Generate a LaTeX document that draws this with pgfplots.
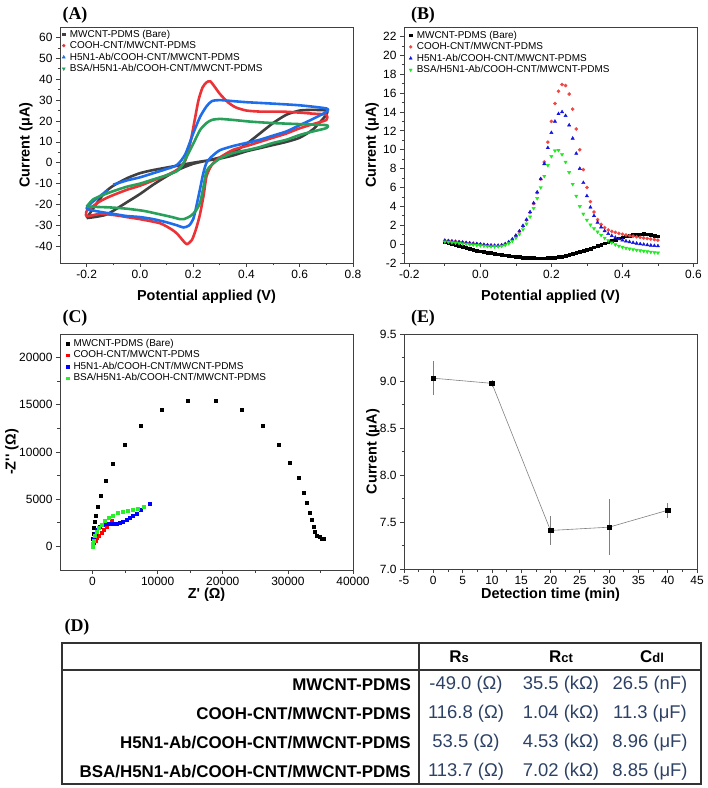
\documentclass[border=0pt]{standalone}
\usepackage{pgfplots}
\pgfplotsset{compat=1.18}
\usepackage{fontspec}
\setmainfont{Liberation Sans}
\newfontfamily\nolig{Liberation Sans}[Ligatures=TeXOff]
\newfontfamily\tnr{Liberation Serif}
\definecolor{cvblack}{RGB}{64,64,64}
\definecolor{cvred}{RGB}{235,50,55}
\definecolor{cvblue}{RGB}{30,110,235}
\definecolor{cvgreen}{RGB}{40,160,90}
\definecolor{dpvred}{RGB}{240,70,70}
\definecolor{dpvblue}{RGB}{20,20,225}
\definecolor{dpvgreen}{RGB}{30,235,30}
\definecolor{eisgreen}{RGB}{40,240,40}
\definecolor{tabval}{RGB}{45,65,100}
\pgfplotsset{
  legend image code/.code={\draw[mark repeat=2,mark phase=2,#1] plot coordinates {(0cm,0cm)(0.2cm,0cm)(0.4cm,0cm)};},
  pan/.style={
    scale only axis,
    axis line style={black!75, line width=0.7bp},
    tick align=outside, tick pos=left,
    major tick length=4bp, minor tick length=2.5bp,
    every tick/.style={black!75, line width=0.7bp},
    minor tick num=1,
    tick label style={font=\fontsize{12}{12}\selectfont},
    label style={font=\fontsize{14.5}{15}\selectfont\bfseries},
    /pgf/number format/assume math mode=true,
    /pgf/number format/1000 sep={},
    scaled ticks=false,
    legend cell align=left,
    legend style={draw=none, fill=none, font=\fontsize{10}{11}\selectfont,
      anchor=north west, inner xsep=2bp, inner ysep=2bp, row sep=1.6bp,
      nodes={inner sep=0.6bp}, /tikz/every odd column/.style={column sep=4bp}},
  },
  onedec/.style={/pgf/number format/fixed, /pgf/number format/fixed zerofill, /pgf/number format/precision=1},
}
\begin{document}
\begin{tikzpicture}
% ---------------- (A) CV ----------------
\begin{axis}[pan, at={(60bp,-27bp)}, anchor=north west, width=293bp, height=236bp,
  xmin=-0.3, xmax=0.8, ymin=-48, ymax=65,
  xtick={-0.2,0,0.2,0.4,0.6,0.8}, ytick={-40,-30,...,60},
  x tick label style={onedec},
  xlabel={Potential applied (V)}, ylabel={Current (μA)},
  xlabel style={at={(axis description cs:0.5,-0.144)}, anchor=center},
  ylabel style={at={(axis description cs:-0.116,0.5)}, anchor=center},
  legend style={at={(axis description cs:0,1)}}]
\addlegendimage{only marks, mark=square*, mark size=1.3bp, cvblack}
\addlegendimage{only marks, mark=*, mark size=1.5bp, cvred}
\addlegendimage{only marks, mark=triangle*, mark size=1.8bp, cvblue}
\addlegendimage{only marks, mark=triangle*, mark options={rotate=180}, mark size=1.8bp, cvgreen}
\addplot[cvblack, line width=2.6bp, smooth, tension=0.4, line join=round] coordinates {
(-0.2,-26.5) (-0.17,-26) (-0.13,-25) (-0.1,-23) (-0.05,-19) (0.0,-15) (0.05,-10.5) (0.1,-6.5) (0.15,-3) (0.2,-0.5) (0.25,1) (0.3,2.5) (0.35,5) (0.4,9) (0.45,14) (0.5,19) (0.55,23) (0.6,25) (0.65,25.3) (0.7,25)
(0.7,23) (0.65,16) (0.6,12) (0.55,10) (0.5,8.5) (0.45,7) (0.4,5.5) (0.35,3.5) (0.3,2) (0.25,1) (0.2,0) (0.14,-1.4) (0.05,-3.5) (0.0,-5) (-0.05,-7.5) (-0.1,-11) (-0.13,-14) (-0.16,-19) (-0.2,-26.5)};
\addplot[cvred, line width=2.6bp, smooth, tension=0.4, line join=round] coordinates {
(-0.2,-23) (-0.15,-18.5) (-0.11,-16) (-0.05,-13) (0.0,-11) (0.05,-8.5) (0.1,-6) (0.14,-3.3) (0.17,1) (0.19,10) (0.205,20) (0.22,30) (0.235,36) (0.25,38.5) (0.264,39) (0.28,36.5) (0.3,33) (0.33,29) (0.36,26.5) (0.4,25) (0.45,24.5) (0.5,24.5) (0.55,24.4) (0.6,24) (0.65,23.5) (0.7,23)
(0.7,20.5) (0.65,18.5) (0.6,16.5) (0.55,14) (0.5,12) (0.45,10) (0.4,8) (0.35,6.2) (0.3,2.5) (0.27,-1) (0.25,-6.5) (0.24,-15) (0.225,-25) (0.21,-32) (0.195,-37) (0.176,-39) (0.16,-37) (0.14,-34) (0.12,-32) (0.076,-29) (0.0,-27) (-0.05,-26) (-0.1,-25) (-0.15,-24.5) (-0.2,-25.6) (-0.2,-23)};
\addplot[cvblue, line width=2.6bp, smooth, tension=0.4, line join=round] coordinates {
(-0.1,-10.5) (-0.05,-8.5) (0.0,-7) (0.05,-5) (0.1,-3) (0.14,-1) (0.17,4) (0.2,14) (0.226,22) (0.25,27) (0.27,29.5) (0.3,30) (0.35,29.5) (0.4,29) (0.5,28.3) (0.6,27.5) (0.7,26)
(0.7,24.4) (0.65,21) (0.6,18) (0.55,15) (0.5,13) (0.45,11) (0.4,9.5) (0.35,8) (0.3,6) (0.27,3) (0.25,0) (0.238,-5) (0.225,-13) (0.21,-22) (0.2,-27) (0.185,-30) (0.164,-31) (0.14,-30) (0.1,-28.5) (0.05,-27) (0.0,-26) (-0.05,-25.5) (-0.1,-24.5) (-0.15,-23.5) (-0.2,-22) (-0.18,-19) (-0.15,-16) (-0.12,-13)};
\addplot[cvgreen, line width=2.6bp, smooth, tension=0.4, line join=round] coordinates {
(-0.2,-21) (-0.176,-17.6) (-0.14,-15.5) (-0.1,-13.6) (-0.05,-11.5) (0.0,-10) (0.05,-8) (0.1,-6) (0.139,-4) (0.16,-1) (0.176,3) (0.2,9) (0.226,15.7) (0.25,19) (0.27,20.5) (0.3,21) (0.35,20.5) (0.414,19.7) (0.5,19) (0.6,18.5) (0.7,18)
(0.7,16.6) (0.65,15) (0.6,13.3) (0.55,11) (0.5,9.5) (0.45,7.5) (0.4,6) (0.35,4.7) (0.3,2) (0.27,-1) (0.25,-4) (0.238,-12) (0.226,-19) (0.21,-23) (0.19,-25.5) (0.165,-27) (0.15,-27) (0.12,-26) (0.05,-24) (0.012,-23) (-0.05,-22) (-0.112,-21.4) (-0.2,-21)};
\legend{MWCNT-PDMS (Bare),COOH-CNT/MWCNT-PDMS,H5N1-Ab/COOH-CNT/MWCNT-PDMS,BSA/H5N1-Ab/COOH-CNT/MWCNT-PDMS}
\end{axis}
% ---------------- (B) DPV ----------------
\begin{axis}[pan, at={(404bp,-27bp)}, anchor=north west, width=293bp, height=236bp,
  xmin=-0.215, xmax=0.61, ymin=-2, ymax=23,
  xtick={-0.2,0,0.2,0.4,0.6}, ytick={-2,0,...,22},
  x tick label style={onedec},
  xlabel={Potential applied (V)}, ylabel={Current (μA)},
  xlabel style={at={(axis description cs:0.5,-0.144)}, anchor=center},
  ylabel style={at={(axis description cs:-0.109,0.5)}, anchor=center},
  legend style={at={(axis description cs:0.01,0.995)}}]
\addlegendimage{only marks, mark=square*, mark size=1.3bp, black}
\addlegendimage{only marks, mark=*, mark size=1.5bp, dpvred}
\addlegendimage{only marks, mark=triangle*, mark size=1.8bp, dpvblue}
\addlegendimage{only marks, mark=triangle*, mark options={rotate=180}, mark size=1.8bp, dpvgreen}
\addplot[only marks, mark=square*, mark size=1.4bp, black] table[row sep=\\] {
x y\\ -0.10 0.20\\ -0.09 0.10\\ -0.08 0.00\\ -0.07 -0.10\\ -0.06 -0.20\\ -0.05 -0.30\\ -0.04 -0.40\\ -0.03 -0.50\\ -0.02 -0.58\\ -0.01 -0.66\\ 0.00 -0.74\\ 0.01 -0.81\\ 0.02 -0.88\\ 0.03 -0.95\\ 0.04 -1.01\\ 0.05 -1.07\\ 0.06 -1.13\\ 0.07 -1.18\\ 0.08 -1.23\\ 0.09 -1.28\\ 0.10 -1.32\\ 0.11 -1.36\\ 0.12 -1.40\\ 0.13 -1.43\\ 0.14 -1.46\\ 0.15 -1.48\\ 0.16 -1.50\\ 0.17 -1.50\\ 0.18 -1.49\\ 0.19 -1.47\\ 0.20 -1.44\\ 0.21 -1.40\\ 0.22 -1.35\\ 0.23 -1.29\\ 0.24 -1.22\\ 0.25 -1.14\\ 0.26 -1.05\\ 0.27 -0.95\\ 0.28 -0.84\\ 0.29 -0.72\\ 0.30 -0.59\\ 0.31 -0.46\\ 0.32 -0.32\\ 0.33 -0.18\\ 0.34 -0.04\\ 0.35 0.10\\ 0.36 0.24\\ 0.37 0.37\\ 0.38 0.50\\ 0.39 0.62\\ 0.40 0.73\\ 0.41 0.83\\ 0.42 0.91\\ 0.43 0.98\\ 0.44 1.03\\ 0.45 1.06\\ 0.46 1.07\\ 0.47 1.05\\ 0.48 1.00\\ 0.49 0.93\\ 0.50 0.85\\
};
\addplot[only marks, mark=*, mark size=1.6bp, dpvred] table[row sep=\\] {
x y\\ -0.10 0.40\\ -0.09 0.36\\ -0.08 0.32\\ -0.07 0.28\\ -0.06 0.24\\ -0.05 0.20\\ -0.04 0.15\\ -0.03 0.11\\ -0.02 0.07\\ -0.01 0.03\\ 0.00 0.00\\ 0.01 -0.05\\ 0.02 -0.09\\ 0.03 -0.13\\ 0.04 -0.16\\ 0.05 -0.17\\ 0.06 -0.12\\ 0.07 0.00\\ 0.08 0.20\\ 0.09 0.50\\ 0.10 0.90\\ 0.11 1.35\\ 0.12 1.90\\ 0.13 2.55\\ 0.14 3.35\\ 0.15 4.30\\ 0.16 5.45\\ 0.17 6.90\\ 0.18 8.70\\ 0.19 10.8\\ 0.20 13.0\\ 0.21 14.9\\ 0.22 16.2\\ 0.23 16.9\\ 0.24 16.8\\ 0.25 15.9\\ 0.26 14.3\\ 0.27 12.2\\ 0.28 10.0\\ 0.29 7.9\\ 0.30 6.0\\ 0.31 4.5\\ 0.32 3.4\\ 0.33 2.6\\ 0.34 2.1\\ 0.35 1.75\\ 0.36 1.5\\ 0.37 1.35\\ 0.38 1.25\\ 0.39 1.15\\ 0.40 1.05\\ 0.41 0.97\\ 0.42 0.90\\ 0.43 0.84\\ 0.44 0.78\\ 0.45 0.72\\ 0.46 0.66\\ 0.47 0.60\\ 0.48 0.54\\ 0.49 0.48\\ 0.50 0.42\\
};
\addplot[only marks, mark=triangle*, mark size=1.9bp, dpvblue] table[row sep=\\] {
x y\\ -0.10 0.38\\ -0.09 0.34\\ -0.08 0.30\\ -0.07 0.26\\ -0.06 0.22\\ -0.05 0.18\\ -0.04 0.14\\ -0.03 0.10\\ -0.02 0.06\\ -0.01 0.02\\ 0.00 -0.02\\ 0.01 -0.06\\ 0.02 -0.10\\ 0.03 -0.13\\ 0.04 -0.15\\ 0.05 -0.15\\ 0.06 -0.10\\ 0.07 0.02\\ 0.08 0.22\\ 0.09 0.52\\ 0.10 0.92\\ 0.11 1.38\\ 0.12 1.95\\ 0.13 2.60\\ 0.14 3.40\\ 0.15 4.35\\ 0.16 5.50\\ 0.17 6.90\\ 0.18 8.50\\ 0.19 10.2\\ 0.20 11.8\\ 0.21 13.0\\ 0.22 13.8\\ 0.23 14.0\\ 0.24 13.6\\ 0.25 12.6\\ 0.26 11.2\\ 0.27 9.6\\ 0.28 8.0\\ 0.29 6.5\\ 0.30 5.1\\ 0.31 3.9\\ 0.32 3.0\\ 0.33 2.3\\ 0.34 1.8\\ 0.35 1.4\\ 0.36 1.1\\ 0.37 0.88\\ 0.38 0.70\\ 0.39 0.55\\ 0.40 0.42\\ 0.41 0.32\\ 0.42 0.23\\ 0.43 0.15\\ 0.44 0.08\\ 0.45 0.02\\ 0.46 -0.04\\ 0.47 -0.09\\ 0.48 -0.13\\ 0.49 -0.17\\ 0.50 -0.20\\
};
\addplot[only marks, mark=triangle*, mark options={rotate=180}, mark size=1.9bp, dpvgreen] table[row sep=\\] {
x y\\ -0.10 0.25\\ -0.09 0.21\\ -0.08 0.17\\ -0.07 0.13\\ -0.06 0.09\\ -0.05 0.05\\ -0.04 0.01\\ -0.03 -0.03\\ -0.02 -0.07\\ -0.01 -0.11\\ 0.00 -0.15\\ 0.01 -0.19\\ 0.02 -0.22\\ 0.03 -0.25\\ 0.04 -0.26\\ 0.05 -0.25\\ 0.06 -0.20\\ 0.07 -0.10\\ 0.08 0.08\\ 0.09 0.33\\ 0.10 0.65\\ 0.11 1.05\\ 0.12 1.55\\ 0.13 2.15\\ 0.14 2.90\\ 0.15 3.80\\ 0.16 4.85\\ 0.17 6.00\\ 0.18 7.20\\ 0.19 8.35\\ 0.20 9.30\\ 0.21 9.90\\ 0.22 9.95\\ 0.23 9.50\\ 0.24 8.70\\ 0.25 7.60\\ 0.26 6.35\\ 0.27 5.10\\ 0.28 4.00\\ 0.29 3.20\\ 0.30 2.55\\ 0.31 2.05\\ 0.32 1.65\\ 0.33 1.30\\ 0.34 0.95\\ 0.35 0.65\\ 0.36 0.38\\ 0.37 0.15\\ 0.38 -0.05\\ 0.39 -0.20\\ 0.40 -0.32\\ 0.41 -0.42\\ 0.42 -0.50\\ 0.43 -0.57\\ 0.44 -0.63\\ 0.45 -0.69\\ 0.46 -0.74\\ 0.47 -0.79\\ 0.48 -0.84\\ 0.49 -0.88\\ 0.50 -0.92\\
};
\legend{MWCNT-PDMS (Bare),COOH-CNT/MWCNT-PDMS,H5N1-Ab/COOH-CNT/MWCNT-PDMS,BSA/H5N1-Ab/COOH-CNT/MWCNT-PDMS}
\end{axis}
% ---------------- (C) Nyquist ----------------
\begin{axis}[pan, at={(60bp,-334bp)}, anchor=north west, width=293bp, height=236bp,
  xmin=-5000, xmax=40000, ymin=-2500, ymax=22500,
  xtick={0,10000,...,40000}, ytick={0,5000,...,20000},
  xlabel={\nolig Z' (Ω)}, ylabel={\nolig -Z'' (Ω)},
  xlabel style={at={(axis description cs:0.5,-0.106)}, anchor=center},
  ylabel style={at={(axis description cs:-0.164,0.5)}, anchor=center},
  legend style={at={(axis description cs:0.014,0.99)}}]
\addlegendimage{only marks, mark=square*, mark size=1.3bp, black}
\addlegendimage{only marks, mark=square*, mark size=1.3bp, red}
\addlegendimage{only marks, mark=square*, mark size=1.3bp, blue}
\addlegendimage{only marks, mark=square*, mark size=1.3bp, eisgreen}
\addplot[only marks, mark=square*, mark size=1.5bp, black] coordinates {
(0,280) (50,810) (150,1340) (200,1930) (310,2570) (460,3280) (820,4230) (1230,5390) (2000,6950) (3130,8740) (4920,10780) (7380,12790) (10660,14480) (14670,15430) (18870,15430) (22870,14450) (26100,12760) (28570,10780) (30310,8880) (31640,7260) (32460,5710) (32870,4620) (33280,3590) (33640,2820) (33900,2040) (34150,1510) (34410,1160) (34820,990) (35180,850) (35440,810)};
\addplot[only marks, mark=square*, mark size=1.5bp, red] coordinates {
(50,0) (200,350) (410,630) (670,920) (970,1160) (1340,1450) (1690,1760) (2100,2050) (2510,2400) (2870,2680)};
\addplot[only marks, mark=square*, mark size=1.5bp, blue] coordinates {
(30,0) (100,400) (200,810) (410,1340) (670,1760) (1080,2110) (1590,2290) (2100,2400) (2620,2400) (3130,2400) (3640,2400) (4150,2460) (4670,2640) (5180,2820) (5690,3030) (6200,3240) (6720,3460) (7330,3880) (7850,4160) (8770,4510)};
\addplot[only marks, mark=square*, mark size=1.5bp, eisgreen] coordinates {
(20,0) (80,300) (150,630) (310,1160) (570,1590) (920,1970) (1340,2330) (1850,2680) (2510,3030) (3130,3280) (3900,3520) (4670,3700) (5430,3810) (6200,3880) (6970,3980) (7850,4160)};
\legend{MWCNT-PDMS (Bare),COOH-CNT/MWCNT-PDMS,H5N1-Ab/COOH-CNT/MWCNT-PDMS,BSA/H5N1-Ab/COOH-CNT/MWCNT-PDMS}
\end{axis}
% ---------------- (E) detection time ----------------
\begin{axis}[pan, at={(404bp,-334bp)}, anchor=north west, width=293bp, height=235bp,
  xmin=-5, xmax=45, ymin=7, ymax=9.5,
  xtick={-5,0,...,45}, ytick={7,7.5,...,9.5},
  y tick label style={onedec},
  xlabel={Detection time (min)}, ylabel={Current (μA)},
  xlabel style={at={(axis description cs:0.5,-0.11)}, anchor=center},
  ylabel style={at={(axis description cs:-0.106,0.5)}, anchor=center}]
\addplot[gray, line width=0.6bp, mark=square*, mark size=2.3bp, mark options={black, fill=black},
  error bars/.cd, y dir=both, y explicit,
  error bar style={gray, line width=0.6bp}, error mark options={gray, mark size=2.8bp, line width=0.6bp}]
  table[row sep=\\, y error=e] {
x y e\\ 0 9.03 0.15\\ 10 8.975 0.005\\ 20 7.41 0.12\\ 30 7.445 0.265\\ 40 7.625 0.05\\
};
\end{axis}
% ---------------- panel letters ----------------
\node[font=\fontsize{18}{20}\selectfont\tnr\bfseries] at (75bp,-15bp) {(A)};
\node[font=\fontsize{18}{20}\selectfont\tnr\bfseries] at (423bp,-15bp) {(B)};
\node[font=\fontsize{18}{20}\selectfont\tnr\bfseries] at (75bp,-318bp) {(C)};
\node[font=\fontsize{18}{20}\selectfont\tnr\bfseries] at (423bp,-318bp) {(E)};
\node[font=\fontsize{18}{20}\selectfont\tnr\bfseries] at (77bp,-627bp) {(D)};
% ---------------- (D) table ----------------
\draw[line width=1.3bp, black!80] (62bp,-643bp) rectangle (701bp,-784bp);
\draw[line width=1.3bp, black!80] (62bp,-670bp) -- (701bp,-670bp);
\draw[line width=1.3bp, black!80] (419bp,-643bp) -- (419bp,-784bp);
\begin{scope}[every node/.style={font=\fontsize{17}{19}\selectfont\bfseries, inner sep=0pt}]
\node at (459bp,-657bp) {R{\fontsize{13}{13}\selectfont s}};
\node at (561bp,-657bp) {R{\fontsize{13}{13}\selectfont ct}};
\node at (652bp,-657bp) {C{\fontsize{13}{13}\selectfont dl}};
\node[anchor=east] at (411bp,-685bp) {MWCNT-PDMS};
\node[anchor=east] at (411bp,-714bp) {COOH-CNT/MWCNT-PDMS};
\node[anchor=east] at (411bp,-743bp) {H5N1-Ab/COOH-CNT/MWCNT-PDMS};
\node[anchor=east] at (411bp,-772bp) {BSA/H5N1-Ab/COOH-CNT/MWCNT-PDMS};
\end{scope}
\begin{scope}[every node/.style={font=\fontsize{18.5}{20}\selectfont, text=tabval, inner sep=0pt}]
\node at (466bp,-685bp) {-49.0 (Ω)};
\node at (561bp,-685bp) {35.5 (kΩ)};
\node at (650bp,-685bp) {26.5 (nF)};
\node at (466bp,-714bp) {116.8 (Ω)};
\node at (561bp,-714bp) {1.04 (kΩ)};
\node at (650bp,-714bp) {11.3 (μF)};
\node at (466bp,-743bp) {53.5 (Ω)};
\node at (561bp,-743bp) {4.53 (kΩ)};
\node at (650bp,-743bp) {8.96 (μF)};
\node at (466bp,-772bp) {113.7 (Ω)};
\node at (561bp,-772bp) {7.02 (kΩ)};
\node at (650bp,-772bp) {8.85 (μF)};
\end{scope}
\pgfresetboundingbox
\path (0bp,0bp) rectangle (708bp,-788bp);
\end{tikzpicture}
\end{document}
